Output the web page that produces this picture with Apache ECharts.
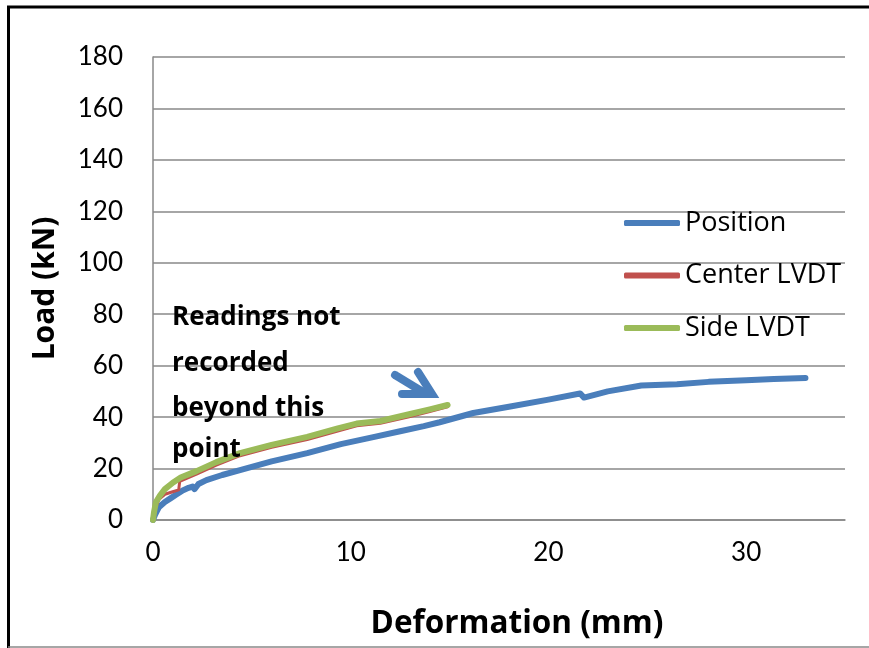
<!DOCTYPE html>
<html><head><meta charset="utf-8">
<script src="https://cdn.jsdelivr.net/npm/echarts@6/dist/echarts.min.js"></script>
<style>html,body{margin:0;padding:0;background:#fff}#c{width:869px;height:648px}</style>
</head><body><div id="c"></div>
<script>
const positionX = [0, 0.1, 0.3, 0.6, 0.9, 1.2, 1.5, 1.8, 2.0, 2.1, 2.3, 2.7, 3.5, 4.4, 6, 7.8, 9.5, 11.2, 12.5, 13.7, 14.5, 16.2, 18, 20, 21.6, 21.8, 23, 24.7, 26.5, 28.1, 30, 31.4, 33.0];
const positionY = [0, 2, 5, 7, 8.5, 10, 11.5, 12.5, 13, 12, 14, 15.5, 17.5, 19.4, 22.8, 26, 29.5, 32.3, 34.5, 36.5, 38, 41.6, 44, 46.8, 49.2, 47.6, 50, 52.3, 52.8, 53.7, 54.3, 54.8, 55.2];
const centerX = [0, 0.1, 0.3, 0.6, 1.0, 1.3, 1.35, 2.2, 3.2, 4.4, 6, 7.8, 9.3, 10.3, 11.5, 12.9, 14.0, 14.9];
const centerY = [0, 4, 8, 10, 11, 11.7, 15, 17.8, 21.3, 25, 28.3, 31.3, 34.5, 36.6, 37.6, 40, 42.2, 44];
const sideX = [0, 0.05, 0.15, 0.35, 0.6, 1.0, 1.4, 2.2, 3.2, 4.4, 6, 7.8, 9.3, 10.3, 11.5, 12.9, 14.0, 14.9];
const sideY = [0, 3, 7, 9.5, 12, 14.5, 16.5, 19, 22.5, 26, 29.2, 32.3, 35.5, 37.5, 38.5, 41, 43, 44.7];
const seriesNames = ['Position', 'Center LVDT', 'Side LVDT'];
const colors = ['#4A7EBB', '#C0504D', '#9BBB59'];
const annotationLines = ['Readings not', 'recorded', 'beyond this', 'point'];

const zip = (a, b) => a.map((v, i) => [v, b[i]]);
const chart = echarts.init(document.getElementById('c'));
const font = 'Lato, "Open Sans", sans-serif';
const font2 = '"Open Sans", Lato, sans-serif';
const annoY = [319, 365, 410, 451];
chart.setOption({
  animation: false,
  backgroundColor: '#fff',
  grid: { left: 153, top: 57, right: 24, bottom: 128 },
  xAxis: {
    type: 'value', min: 0, max: 35, interval: 10,
    name: 'Deformation (mm)', nameLocation: 'middle', nameGap: 88,
    nameTextStyle: { fontFamily: font2, fontWeight: 'bold', fontSize: 31.5, color: '#000', padding: [0, 0, 0, 36] },
    axisLine: { show: true, lineStyle: { color: '#888', width: 1.5 } },
    axisTick: { show: false },
    splitLine: { show: false },
    axisLabel: { fontFamily: font, fontSize: 26, color: '#000', margin: 20, showMaxLabel: false }
  },
  yAxis: {
    type: 'value', min: 0, max: 180, interval: 20,
    name: 'Load (kN)', nameLocation: 'middle', nameGap: 93,
    nameTextStyle: { fontFamily: font2, fontWeight: 'bold', fontSize: 30, color: '#000' },
    axisLine: { show: true, lineStyle: { color: '#888', width: 1.5 } },
    axisTick: { show: false },
    splitLine: { show: true, lineStyle: { color: '#888', width: 1.5 } },
    axisLabel: { fontFamily: font, fontSize: 26, color: '#000', margin: 30 }
  },
  legend: {
    orient: 'vertical', left: 624, top: 208, itemGap: 22.5, padding: 0,
    icon: 'roundRect', itemWidth: 56, itemHeight: 6,
    textStyle: { fontFamily: font2, fontSize: 27, color: '#000', lineHeight: 30 },
    data: seriesNames
  },
  series: [
    { name: seriesNames[0], type: 'line', data: zip(positionX, positionY), symbol: 'none',
      lineStyle: { color: colors[0], width: 6, cap: 'round', join: 'round' }, itemStyle: { color: colors[0] } },
    { name: seriesNames[1], type: 'line', data: zip(centerX, centerY), symbol: 'none',
      lineStyle: { color: colors[1], width: 3, cap: 'round', join: 'round' }, itemStyle: { color: colors[1] } },
    { name: seriesNames[2], type: 'line', data: zip(sideX, sideY), symbol: 'none',
      lineStyle: { color: colors[2], width: 6, cap: 'round', join: 'round' }, itemStyle: { color: colors[2] } }
  ],
  graphic: [
    { type: 'line', shape: { x1: 7, y1: 7, x2: 869, y2: 7 }, style: { stroke: '#000', lineWidth: 3 } },
    { type: 'line', shape: { x1: 8.5, y1: 6, x2: 8.5, y2: 648 }, style: { stroke: '#000', lineWidth: 3 } },
    { type: 'line', shape: { x1: 8, y1: 647, x2: 869, y2: 647 }, style: { stroke: '#888', lineWidth: 1.5 } },
    { type: 'polyline', z: 10, shape: { points: [[395, 375], [423, 392]] }, style: { stroke: colors[0], lineWidth: 8, lineCap: 'round', fill: null } },
    { type: 'polyline', z: 10, shape: { points: [[418, 372], [432, 394], [402, 394]] }, style: { stroke: colors[0], lineWidth: 8, lineCap: 'round', lineJoin: 'miter', fill: null } }
  ].concat(annotationLines.map((t, i) => ({
    type: 'text', z: 10, left: 172, top: annoY[i] - 14,
    style: { text: t, fontFamily: font2, fontWeight: 'bold', fontSize: 26, fill: '#000' }
  })))
});
</script></body></html>
